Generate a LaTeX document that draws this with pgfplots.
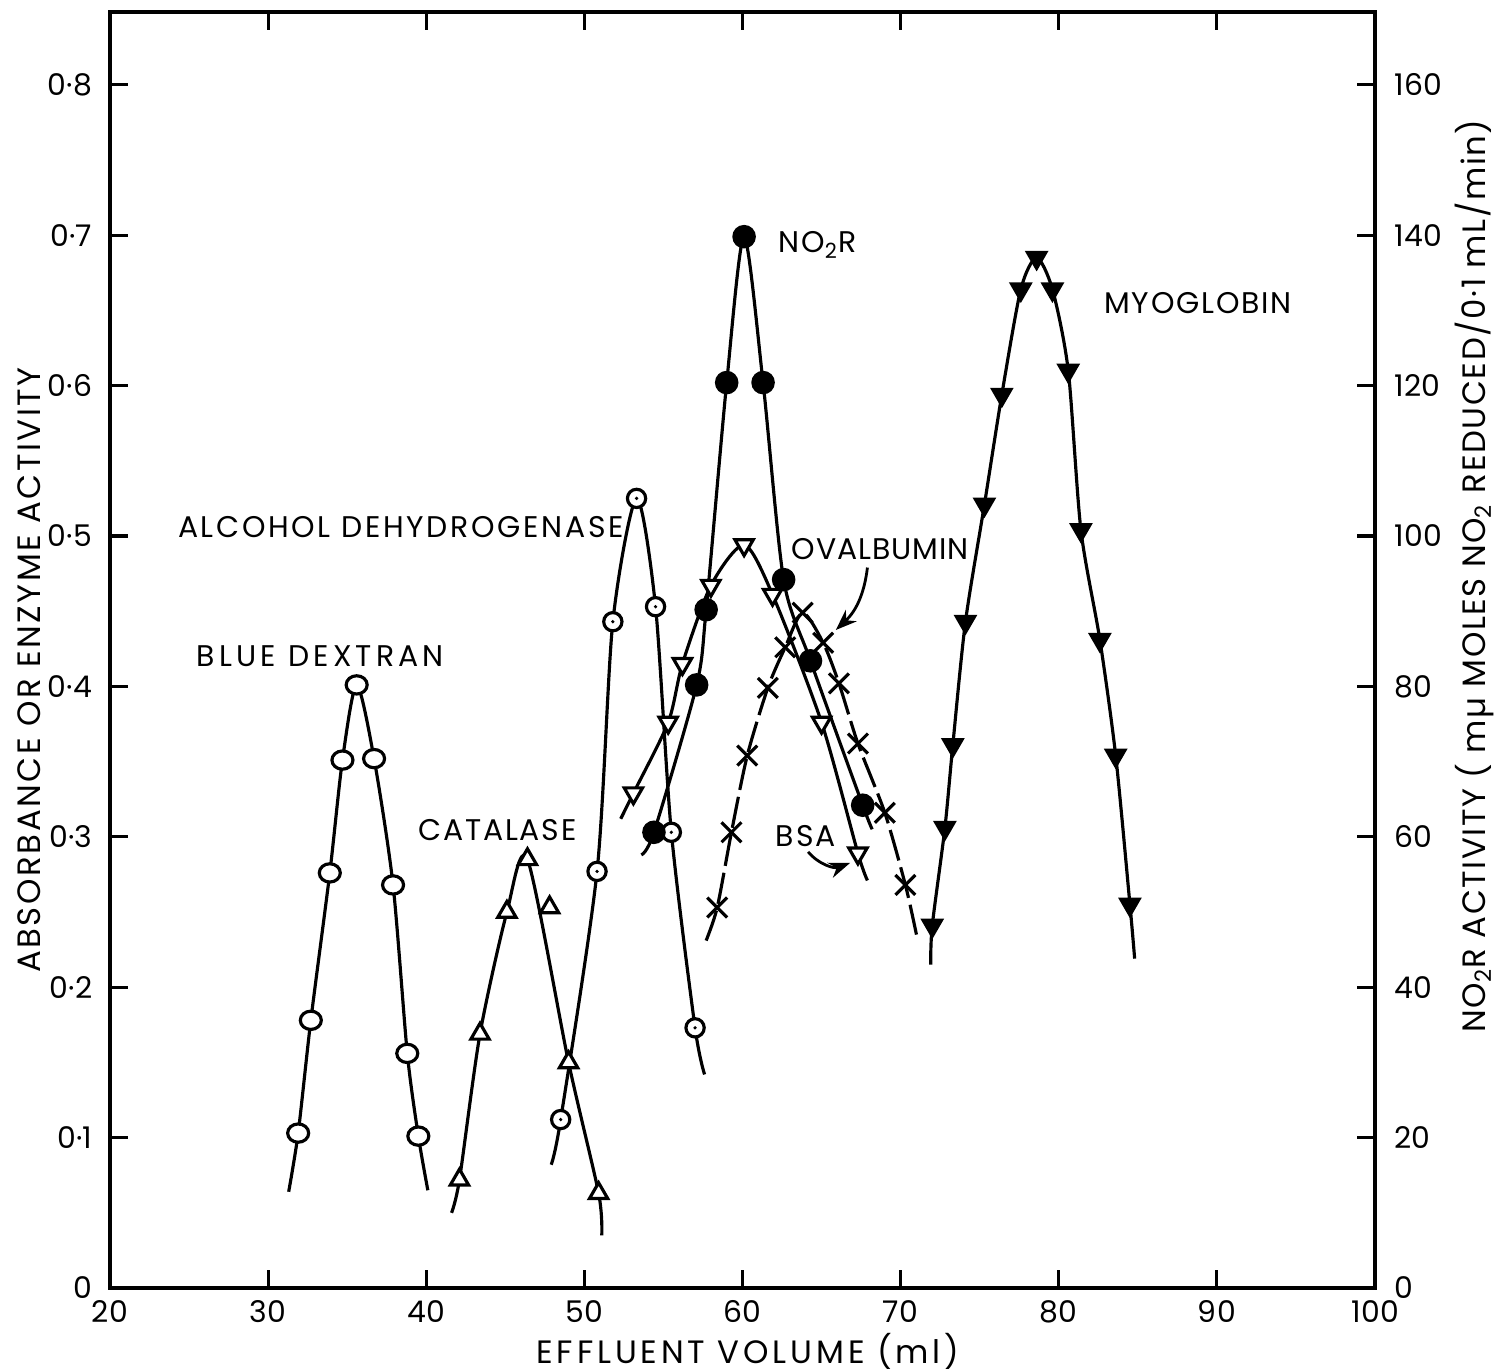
\documentclass[border=0pt]{standalone}
\usepackage{fontspec}
\setmainfont{Poppins}[LetterSpace=6]
\newfontfamily\tickfont{Poppins}[LetterSpace=1]
\usepackage{pgfplots}
\pgfplotsset{compat=1.18}
\usetikzlibrary{arrows.meta}

% circle with a dot in the middle (alcohol dehydrogenase)
\pgfdeclareplotmark{odot}{%
  \pgfpathcircle{\pgfpointorigin}{\pgfplotmarksize}%
  \pgfsetfillcolor{white}\pgfusepathqfillstroke
  \pgfpathcircle{\pgfpointorigin}{0.2\pgfplotmarksize}%
  \pgfsetfillcolor{black}\pgfusepathqfill}

\newcommand{\lab}{\fontsize{8.5}{10}\selectfont}
\newcommand{\axlab}{\fontsize{9.2}{11}\selectfont\addfontfeatures{LetterSpace=8}}

\begin{document}
\begin{tikzpicture}
\begin{axis}[
    name=main,
    width=12.65cm, height=12.76cm, scale only axis,
    xmin=20, xmax=100, ymin=0, ymax=0.8484,
    xtick={20,30,40,50,60,70,80,90,100},
    xticklabels={20,30,40,50,60,70,80,90,100},
    ytick={0,0.1,0.2,0.3,0.4,0.5,0.6,0.7,0.8},
    yticklabels={0,0·1,0·2,0·3,0·4,0·5,0·6,0·7,0·8},
    ytick pos=left,
    tick align=inside, major tick length=0.18cm,
    axis line style={line width=0.9pt},
    tick style={line width=0.9pt, black},
    tick label style={font=\fontsize{8.5}{10}\tickfont},
    yticklabel style={xshift=-1.5pt},
    clip=false,
    every axis plot/.append style={line width=0.9pt, black, smooth, tension=0.45},
]
% blue dextran
\addplot[mark=*, mark size=2.6pt, mark options={fill=white, xscale=1.15},
  mark indices={2,3,4,5,6,7,8,9,10}] coordinates {
 (31.3,0.064) (31.9,0.103) (32.7,0.178) (33.9,0.276) (34.7,0.351) (35.6,0.401)
 (36.7,0.352) (37.9,0.268) (38.8,0.156) (39.5,0.101) (40.1,0.065)};
% catalase
\addplot[mark=triangle*, mark size=3pt, mark options={fill=white},
  mark indices={2,3,4,5,6,7}] coordinates {
 (41.6,0.050) (42.1,0.072) (43.4,0.169) (45.1,0.250) (46.4,0.285) (49.0,0.150)
 (50.9,0.063) (51.1,0.035)};
\addplot[only marks, mark=triangle*, mark size=3pt, mark options={fill=white}] coordinates {(47.8,0.253)};
% alcohol dehydrogenase
\addplot[mark=odot, mark size=2.6pt, mark indices={2,3,4,5,6,7,8}] coordinates {
 (47.9,0.082) (48.5,0.112) (50.8,0.277) (51.8,0.443) (53.3,0.525) (54.5,0.453)
 (55.5,0.303) (57.0,0.173) (57.6,0.142)};
% BSA
\addplot[mark=triangle*, mark size=3pt, mark options={fill=white, rotate=180},
  mark indices={2,3,4,5,6,7,8,9}] coordinates {
 (52.3,0.312) (53.1,0.329) (55.3,0.376) (56.2,0.415) (58.0,0.467) (60.1,0.494)
 (61.9,0.461) (65.0,0.376) (67.3,0.289) (67.9,0.271)};
% NO2R
\addplot[mark=*, mark size=2.9pt, mark options={fill=black},
  mark indices={2,3,4,5,6,7,8,9,10}] coordinates {
 (53.6,0.288) (54.4,0.303) (57.1,0.401) (57.7,0.451) (59.0,0.602) (60.1,0.699)
 (61.3,0.602) (62.6,0.471) (64.3,0.417) (67.6,0.321) (68.2,0.305)};
% ovalbumin
\addplot[dash pattern=on 9pt off 2pt, mark=x, mark size=4pt, mark options={solid},
  mark indices={2,3,4,5,6,7,8,9,10,11,12}] coordinates {
 (57.7,0.231) (58.4,0.253) (59.3,0.303) (60.3,0.354) (61.6,0.399) (62.7,0.426)
 (63.8,0.449) (65.1,0.429) (66.1,0.402) (67.3,0.362) (69.0,0.316) (70.3,0.268)
 (71.0,0.235)};
% myoglobin
\addplot[mark=triangle*, mark size=3pt, mark options={fill=black, rotate=180},
  mark indices={2,3,4,5,6,7,8,9,10,11,12,13,14,15}] coordinates {
 (71.9,0.215) (72.0,0.241) (72.8,0.306) (73.3,0.361) (74.1,0.443) (75.3,0.521)
 (76.4,0.594) (77.6,0.664) (78.6,0.685) (79.6,0.664) (80.6,0.610) (81.4,0.504)
 (82.6,0.431) (83.6,0.354) (84.5,0.255) (84.8,0.219)};

\node[font=\lab\addfontfeatures{LetterSpace=14}] at (axis cs:33.3,0.42) {BLUE DEXTRAN};
\node[font=\lab] at (axis cs:44.5,0.3045) {CATALASE};
\node[font=\lab\addfontfeatures{LetterSpace=9}] at (axis cs:38.4,0.506) {ALCOHOL DEHYDROGENASE};
\node[font=\lab, anchor=west] at (axis cs:61.5,0.6935) {NO\textsubscript{2}R};
\node[font=\lab] at (axis cs:88.8,0.655) {MYOGLOBIN};
\node[font=\lab\addfontfeatures{LetterSpace=3}] at (axis cs:68.7,0.491) {OVALBUMIN};
\node[font=\lab] at (axis cs:64.0,0.3005) {BSA};
\draw[line width=0.8pt, -{Stealth[length=6pt]}] (axis cs:67.9,0.479) to[bend left=20] (axis cs:65.9,0.4375);
\draw[line width=0.8pt, -{Stealth[length=6pt]}] (axis cs:64.15,0.290) to[bend right=35] (axis cs:66.8,0.2826);

\node[font=\axlab, rotate=90] at (rel axis cs:-0.0640,0.4843) {ABSORBANCE OR ENZYME ACTIVITY};
\node[font=\axlab\addfontfeatures{LetterSpace=12}] at (rel axis cs:0.5043,-0.0500) {EFFLUENT VOLUME (ml)};
\node[font=\fontsize{9.2}{11}\selectfont\addfontfeatures{LetterSpace=5}, rotate=90] at (rel axis cs:1.0785,0.558)
  {NO\textsubscript{2}R ACTIVITY ( mµ MOLES NO\textsubscript{2} REDUCED/0·1 mL/min)};
\end{axis}

\begin{axis}[
    width=12.65cm, height=12.76cm, scale only axis,
    xmin=20, xmax=100, ymin=0, ymax=169.68,
    axis y line*=right, axis x line=none,
    ytick={0,20,40,60,80,100,120,140,160},
    yticklabels={0,20,40,60,80,100,120,140,160},
    tick align=inside, major tick length=0.18cm,
    axis line style={line width=0.9pt},
    tick style={line width=0.9pt, black},
    tick label style={font=\fontsize{8.5}{10}\tickfont},
    yticklabel style={anchor=west, xshift=2pt},
]
\end{axis}

\pgfresetboundingbox
\path[use as bounding box] ([xshift=-1.10cm,yshift=-0.83cm]main.south west)
  rectangle ([xshift=1.22cm,yshift=0.12cm]main.north east);
\end{tikzpicture}
\end{document}
